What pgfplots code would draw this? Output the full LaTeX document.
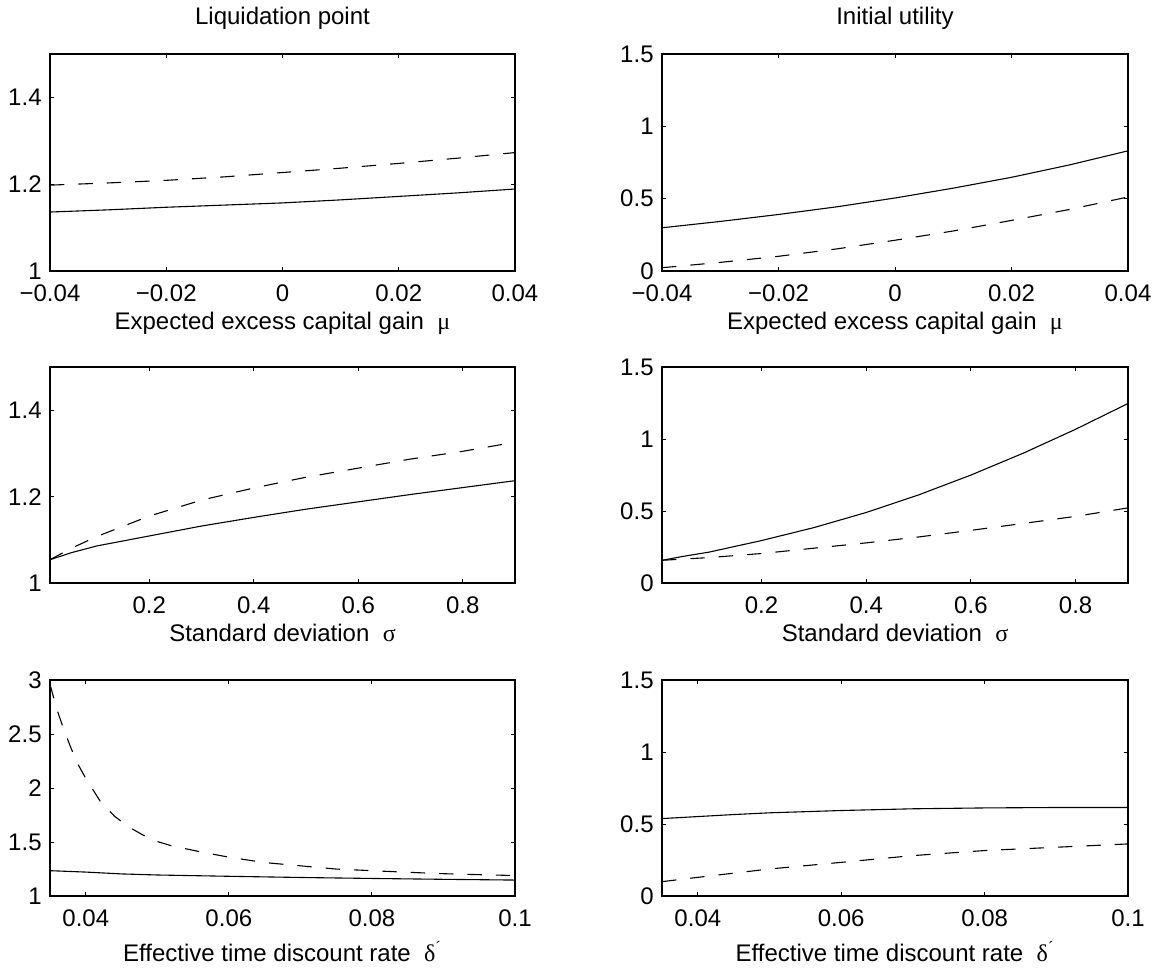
\documentclass[border=0pt]{standalone}
\usepackage{fontspec}
\setmainfont{Liberation Sans}
\newfontfamily\grk{Liberation Serif}
\usepackage{pgfplots}
\pgfplotsset{compat=1.18}
\begin{document}
\begin{tikzpicture}
\pgfplotsset{
  every axis/.style={
    scale only axis,
    anchor=south west,
    axis line style={line width=0.7pt},
    tick style={line width=0.5pt, black},
    major tick length=2.2pt,
    tick align=inside,
    xtick pos=both, ytick pos=both,
    /pgf/number format/assume math mode=true,
    scaled x ticks=false, scaled y ticks=false,
    tick label style={font=\fontsize{12}{14}\selectfont},
    xticklabel style={anchor=base, yshift=-15pt},
    yticklabel style={inner sep=4pt},
    title style={font=\fontsize{12}{14}\selectfont, at={(0.5,1)}, anchor=base, yshift=9pt},
    xlabel style={font=\fontsize{12}{14}\selectfont, at={(axis description cs:0.5,0)}, anchor=base, yshift=-29pt},
    clip=true,
  },
  sol/.style={black, line width=0.55pt, no marks},
  das/.style={black, line width=0.55pt, no marks, dash pattern=on 7.2pt off 7pt},
}
% Row 1 left
\begin{axis}[at={(25pt,349pt)}, width=232.5pt, height=108.5pt,
  xmin=-0.04, xmax=0.04, ymin=1, ymax=1.5,
  xtick={-0.04,-0.02,0,0.02,0.04}, xticklabels={−0.04,−0.02,0,0.02,0.04},
  ytick={1,1.2,1.4}, yticklabels={1,1.2,1.4},
  title={Liquidation point},
  xlabel={Expected excess capital gain\ \ {\grk μ}}]
\addplot[sol] coordinates {(-0.04,1.136)(-0.03,1.141)(-0.02,1.147)(-0.01,1.152)(0,1.157)(0.01,1.164)(0.02,1.172)(0.03,1.180)(0.04,1.189)};
\addplot[das] coordinates {(-0.04,1.198)(-0.03,1.203)(-0.02,1.209)(-0.01,1.217)(0,1.227)(0.01,1.237)(0.02,1.248)(0.03,1.260)(0.04,1.273)};
\end{axis}
% Row 1 right
\begin{axis}[at={(331pt,349pt)}, width=233pt, height=108.5pt,
  xmin=-0.04, xmax=0.04, ymin=0, ymax=1.5,
  xtick={-0.04,-0.02,0,0.02,0.04}, xticklabels={−0.04,−0.02,0,0.02,0.04},
  ytick={0,0.5,1,1.5}, yticklabels={0,0.5,1,1.5},
  title={Initial utility},
  xlabel={Expected excess capital gain\ \ {\grk μ}}]
\addplot[sol] coordinates {(-0.04,0.299)(-0.03,0.343)(-0.02,0.391)(-0.01,0.444)(0,0.505)(0.01,0.573)(0.02,0.648)(0.03,0.734)(0.04,0.831)};
\addplot[das] coordinates {(-0.04,0.023)(-0.03,0.060)(-0.02,0.102)(-0.01,0.153)(0,0.213)(0.01,0.277)(0.02,0.350)(0.03,0.426)(0.04,0.512)};
\end{axis}
% Row 2 left
\begin{axis}[at={(25pt,193pt)}, width=232.5pt, height=108pt,
  xmin=0.01, xmax=0.9, ymin=1, ymax=1.5,
  xtick={0.2,0.4,0.6,0.8}, xticklabels={0.2,0.4,0.6,0.8},
  ytick={1,1.2,1.4}, yticklabels={1,1.2,1.4},
  xlabel={Standard deviation\ \ {\grk σ}}]
\addplot[sol] coordinates {(0.01,1.054)(0.05,1.070)(0.1,1.086)(0.2,1.109)(0.3,1.132)(0.4,1.152)(0.5,1.171)(0.6,1.188)(0.7,1.205)(0.8,1.221)(0.9,1.237)};
\addplot[das] coordinates {(0.01,1.054)(0.05,1.080)(0.1,1.108)(0.2,1.155)(0.3,1.192)(0.4,1.220)(0.5,1.245)(0.6,1.266)(0.7,1.287)(0.8,1.305)(0.9,1.326)};
\end{axis}
% Row 2 right
\begin{axis}[at={(331pt,193pt)}, width=233pt, height=108pt,
  xmin=0.01, xmax=0.9, ymin=0, ymax=1.5,
  xtick={0.2,0.4,0.6,0.8}, xticklabels={0.2,0.4,0.6,0.8},
  ytick={0,0.5,1,1.5}, yticklabels={0,0.5,1,1.5},
  xlabel={Standard deviation\ \ {\grk σ}}]
\addplot[sol] coordinates {(0.01,0.158)(0.05,0.185)(0.1,0.215)(0.2,0.295)(0.3,0.385)(0.4,0.490)(0.5,0.612)(0.6,0.750)(0.7,0.902)(0.8,1.068)(0.9,1.247)};
\addplot[das] coordinates {(0.01,0.158)(0.1,0.177)(0.2,0.205)(0.3,0.242)(0.4,0.279)(0.5,0.320)(0.6,0.366)(0.7,0.414)(0.8,0.463)(0.9,0.522)};
\end{axis}
% Row 3 left
\begin{axis}[at={(25pt,36.5pt)}, width=232.5pt, height=108pt,
  xmin=0.035, xmax=0.1, ymin=1, ymax=3,
  xtick={0.04,0.06,0.08,0.1}, xticklabels={0.04,0.06,0.08,0.1},
  ytick={1,1.5,2,2.5,3}, yticklabels={1,1.5,2,2.5,3},
  xlabel style={yshift=-3.5pt},
  xlabel={Effective time discount rate\ \ {\grk δ}\textsuperscript{\grk ´}}]
\addplot[sol] coordinates {(0.035,1.235)(0.04,1.222)(0.045,1.205)(0.05,1.195)(0.06,1.183)(0.07,1.172)(0.08,1.163)(0.09,1.155)(0.1,1.148)};
\addplot[das] coordinates {(0.035,2.96)(0.0355,2.84)(0.036,2.72)(0.037,2.53)(0.038,2.36)(0.039,2.21)(0.040,2.09)(0.042,1.88)(0.044,1.74)(0.046,1.64)(0.048,1.565)(0.050,1.505)(0.052,1.465)(0.056,1.41)(0.060,1.36)(0.065,1.31)(0.070,1.28)(0.075,1.25)(0.080,1.235)(0.085,1.22)(0.090,1.207)(0.095,1.198)(0.1,1.19)};
\end{axis}
% Row 3 right
\begin{axis}[at={(331pt,36.5pt)}, width=233pt, height=108pt,
  xmin=0.035, xmax=0.1, ymin=0, ymax=1.5,
  xtick={0.04,0.06,0.08,0.1}, xticklabels={0.04,0.06,0.08,0.1},
  ytick={0,0.5,1,1.5}, yticklabels={0,0.5,1,1.5},
  xlabel style={yshift=-3.5pt},
  xlabel={Effective time discount rate\ \ {\grk δ}\textsuperscript{\grk ´}}]
\addplot[sol] coordinates {(0.035,0.538)(0.04,0.552)(0.045,0.566)(0.05,0.578)(0.06,0.594)(0.07,0.606)(0.08,0.612)(0.09,0.615)(0.1,0.615)};
\addplot[das] coordinates {(0.035,0.100)(0.04,0.130)(0.05,0.188)(0.06,0.234)(0.07,0.281)(0.08,0.316)(0.09,0.339)(0.1,0.362)};
\end{axis}
\path (0pt,0pt) rectangle (581.5pt,479.5pt);
\end{tikzpicture}
\end{document}
